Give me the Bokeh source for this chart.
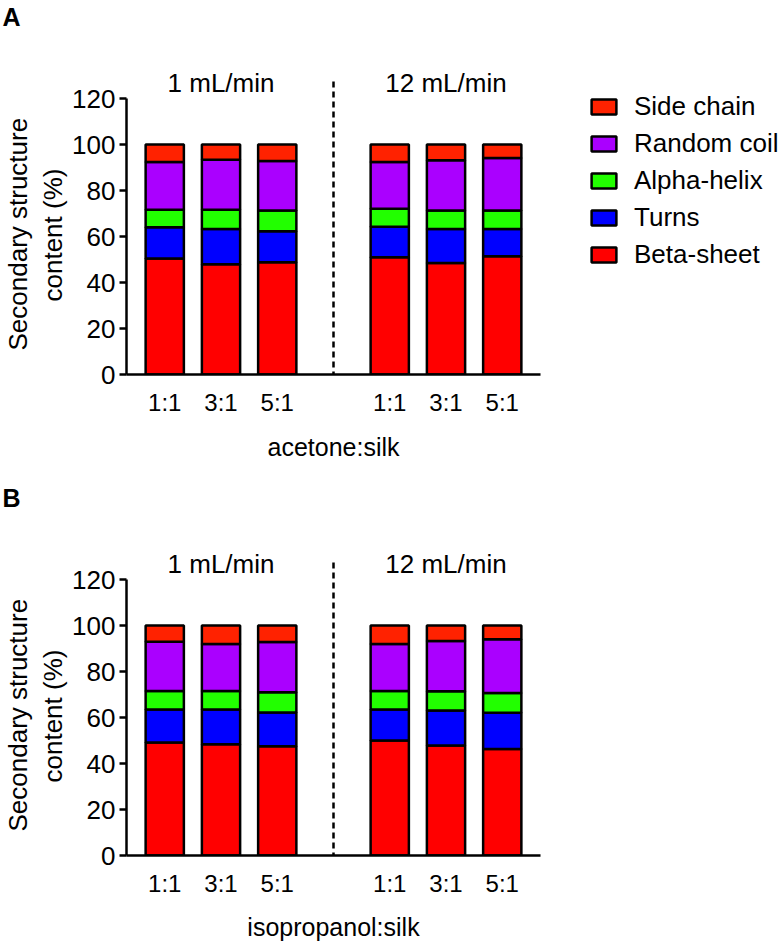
from bokeh.plotting import figure
from bokeh.models import Range1d, FixedTicker, Legend, LegendItem, ColumnDataSource, Title
from bokeh.layouts import column
from bokeh.embed import file_html
from bokeh.resources import INLINE
from bokeh.core.properties import value

# ---------------- data ----------------
ratios = ["1:1", "3:1", "5:1", "1:1", "3:1", "5:1"]
positions = [0, 1, 2, 4, 5, 6]
flow_rates = ["1 mL/min", "12 mL/min"]
components = ["Beta-sheet", "Turns", "Alpha-helix", "Random coil", "Side chain"]
colors = ["#FF0000", "#0000FF", "#22FF00", "#AA00FF", "#FF2200"]
y_ticks = [0, 20, 40, 60, 80, 100, 120]
y_label_lines = ["Secondary structure", "content (%)"]

a_beta = [50.5, 48.0, 48.8, 51.0, 48.5, 51.4]
a_turns = [13.5, 15.3, 13.5, 13.3, 14.8, 11.9]
a_alpha = [7.7, 8.4, 9.0, 7.8, 8.0, 8.0]
a_random = [20.7, 21.7, 21.6, 20.3, 21.9, 22.9]
a_side = [7.6, 6.6, 7.1, 7.6, 6.8, 5.8]

b_beta = [49.1, 48.4, 47.5, 50.0, 47.8, 46.3]
b_turns = [14.4, 15.1, 14.7, 13.5, 15.3, 15.8]
b_alpha = [8.0, 8.0, 8.8, 8.0, 8.3, 8.6]
b_random = [21.5, 20.5, 21.8, 20.5, 21.9, 23.3]
b_side = [7.0, 8.0, 7.2, 8.0, 6.7, 6.0]

FONT = "Liberation Sans"
FS = "26px"


def make_panel(letter, solvent, series, bottom, label_standoff, with_legend):
    p = figure(frame_width=414, frame_height=344, output_backend="svg",
               toolbar_location=None,
               x_range=Range1d(-0.68, 6.68), y_range=Range1d(0, 149.6),
               min_border_left=126, min_border_right=242, min_border_top=29,
               min_border_bottom=bottom)
    p.outline_line_color = None
    p.xgrid.visible = False
    p.ygrid.visible = False

    p.title.text = letter
    p.title.text_font = FONT
    p.title.text_font_size = "25px"
    p.title.text_font_style = "bold"
    p.title.text_color = "black"
    p.title.align = "left"
    p.title.offset = -124
    p.title.standoff = 0

    data = dict(x=positions)
    for comp, vals in zip(components, series):
        data[comp] = vals
    src = ColumnDataSource(data)
    rends = p.vbar_stack(components, x="x", width=0.68, source=src,
                         fill_color=colors, line_color="black", line_width=2.5)

    sep = (positions[2] + positions[3]) / 2
    p.segment(x0=[sep], y0=[-10], x1=[sep], y1=[127.5], line_color="black",
              line_width=2.5, line_dash="6 4")

    centers = [sum(positions[0:3]) / 3, sum(positions[3:6]) / 3]
    p.text(x=centers, y=[126.6, 126.6], text=flow_rates, text_align="center",
           text_baseline="middle", text_font=value(FONT), text_font_size=FS,
           text_color="black")

    ya = p.yaxis[0]
    ya.ticker = FixedTicker(ticks=y_ticks)
    ya.bounds = (0, 120)
    ya.major_label_text_font = FONT
    ya.major_label_text_font_size = FS
    ya.major_label_text_color = "black"
    ya.major_label_standoff = 4
    ya.axis_line_width = 2.5
    ya.axis_line_color = "black"
    ya.major_tick_line_width = 2.5
    ya.major_tick_line_color = "black"
    ya.major_tick_out = 7
    ya.major_tick_in = 0
    ya.minor_tick_line_color = None

    # two-line y label as left-side titles (inner line first)
    for txt, off, so in [(y_label_lines[1], 73, 4), (y_label_lines[0], 24, 1)]:
        p.add_layout(Title(text=txt, align="left", offset=off, standoff=so,
                           text_font=FONT, text_font_size=FS,
                           text_font_style="normal", text_color="black"), "left")

    xa = p.xaxis[0]
    xa.ticker = FixedTicker(ticks=positions)
    xa.major_label_overrides = {pos: lab for pos, lab in zip(positions, ratios)}
    xa.axis_label = solvent
    xa.axis_label_text_font = FONT
    xa.axis_label_text_font_size = "25px"
    xa.axis_label_text_font_style = "normal"
    xa.axis_label_text_color = "black"
    xa.axis_label_standoff = label_standoff
    xa.major_label_text_font = FONT
    xa.major_label_text_font_size = "24px"
    xa.major_label_text_color = "black"
    xa.major_label_standoff = 8
    xa.axis_line_width = 2.5
    xa.axis_line_color = "black"
    xa.major_tick_line_color = None
    xa.minor_tick_line_color = None

    if with_legend:
        items = [LegendItem(label=c, renderers=[r]) for c, r in zip(components, rends)]
        items.reverse()
        leg = Legend(items=items, location=(48, 104), margin=0, padding=0, spacing=6,
                     label_standoff=15, glyph_width=31, glyph_height=19,
                     label_text_font=FONT, label_text_font_size=FS,
                     label_text_color="black",
                     border_line_color=None, background_fill_alpha=0)
        p.add_layout(leg, "right")
    return p


pA = make_panel("A", "acetone:silk",
                [a_beta, a_turns, a_alpha, a_random, a_side], 107, 14, True)
pB = make_panel("B", "isopropanol:silk",
                [b_beta, b_turns, b_alpha, b_random, b_side], 87, 13, False)

layout = column(pA, pB, spacing=0)
open("out.html", "w").write(file_html(layout, INLINE))
